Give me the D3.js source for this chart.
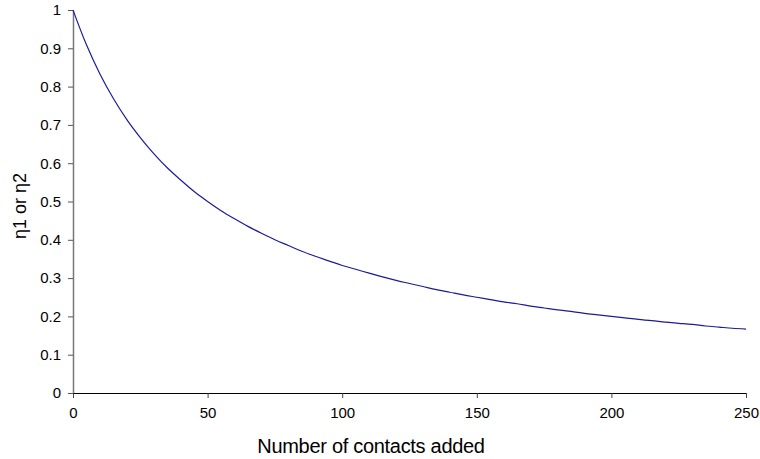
<!DOCTYPE html>
<html>
<head>
<meta charset="utf-8">
<script src="https://cdn.jsdelivr.net/npm/d3@7"></script>
<style>
  body { margin: 0; background: #fff; }
  svg { display: block; font-family: "Liberation Sans", Arial, Helvetica, sans-serif; }
  .tick text { font-size: 15px; fill: #000; }
</style>
</head>
<body>
<svg id="chart" width="760" height="459"></svg>
<script>
  // Values, every 5 contacts
  const contacts = d3.range(0, 251, 5);
  const eta = [
    1, 0.909, 0.833, 0.769, 0.714, 0.667, 0.625, 0.588, 0.556, 0.526,
    0.5, 0.476, 0.455, 0.435, 0.417, 0.4, 0.385, 0.370, 0.357, 0.345,
    0.333, 0.323, 0.313, 0.303, 0.294, 0.286, 0.278, 0.270, 0.263, 0.256,
    0.25, 0.244, 0.238, 0.233, 0.227, 0.222, 0.217, 0.213, 0.208, 0.204,
    0.2, 0.196, 0.192, 0.189, 0.185, 0.182, 0.179, 0.175, 0.172, 0.169,
    0.167
  ];
  const xTicks = [0, 50, 100, 150, 200, 250];
  const yTicks = [0, 0.1, 0.2, 0.3, 0.4, 0.5, 0.6, 0.7, 0.8, 0.9, 1];

  const margin = { top: 10, right: 14, bottom: 66, left: 73 };
  const svg = d3.select("#chart");
  const width = 760 - margin.left - margin.right;
  const height = 459 - margin.top - margin.bottom;

  const x = d3.scaleLinear().domain([0, 250]).range([0, width]);
  const y = d3.scaleLinear().domain([0, 1]).range([height, 0]);

  const g = svg.append("g").attr("transform", `translate(${margin.left},${margin.top})`);

  // Y axis
  g.append("g")
    .call(d3.axisLeft(y).tickValues(yTicks).tickFormat(d3.format("")).tickSize(5).tickSizeOuter(0).tickPadding(7))
    .call(a => a.select(".domain").attr("stroke", "#777").attr("stroke-width", 1.5))
    .call(a => a.selectAll(".tick line").attr("stroke", "#555"));

  // X axis
  g.append("g")
    .attr("transform", `translate(0,${height})`)
    .call(d3.axisBottom(x).tickValues(xTicks).tickSize(5).tickSizeOuter(0).tickPadding(9))
    .call(a => a.select(".domain").attr("stroke", "#000").attr("stroke-width", 1.2))
    .call(a => a.selectAll(".tick line").attr("stroke", "#444"));

  // Curve
  const line = d3.line()
    .x((d, i) => x(contacts[i]))
    .y(d => y(d))
    .curve(d3.curveMonotoneX);
  g.append("path")
    .datum(eta)
    .attr("fill", "none")
    .attr("stroke", "#1c1c96")
    .attr("stroke-width", 1.2)
    .attr("d", line);

  // Axis titles
  svg.append("text")
    .attr("x", 371)
    .attr("y", 453)
    .attr("text-anchor", "middle")
    .attr("font-size", 20)
    .attr("letter-spacing", -0.3)
    .text("Number of contacts added");

  svg.append("text")
    .attr("transform", "translate(26,206) rotate(-90)")
    .attr("text-anchor", "middle")
    .attr("font-size", 18)
    .text("η1 or η2");
</script>
</body>
</html>
